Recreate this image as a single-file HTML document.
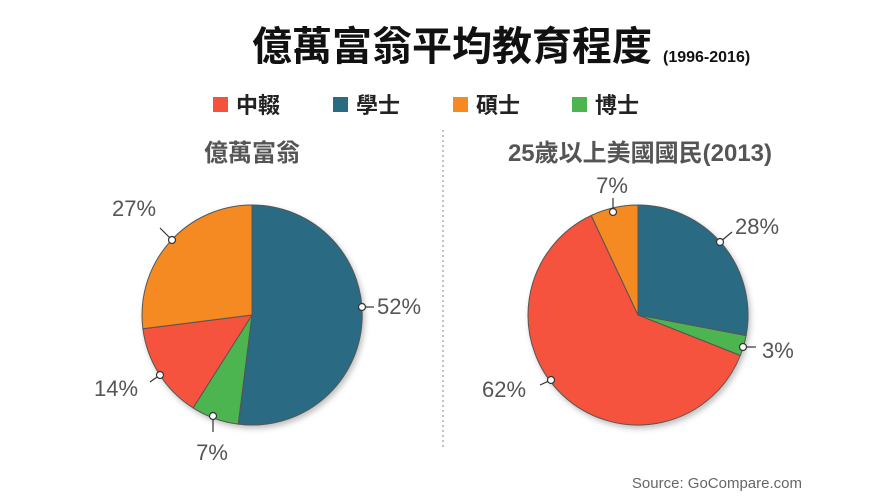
<!DOCTYPE html>
<html><head><meta charset="utf-8"><style>
body{margin:0;background:#fff;}
svg{display:block;}
text{font-family:"Liberation Sans","Noto Sans CJK TC",sans-serif;}
</style></head><body>
<svg width="890" height="501" viewBox="0 0 890 501">
<defs><filter id="sh" x="-20%" y="-20%" width="140%" height="140%"><feDropShadow dx="2" dy="3" stdDeviation="3" flood-color="#000" flood-opacity="0.25"/></filter></defs>
<text x="452" y="60" text-anchor="middle" font-size="40" font-weight="bold" fill="#111">億萬富翁平均教育程度</text>
<text x="663" y="62" font-size="16" font-weight="bold" fill="#111">(1996-2016)</text>
<rect x="213" y="97" width="15" height="15" fill="#f5523e"/><text x="236" y="113" font-size="22" font-weight="bold" fill="#222">中輟</text>
<rect x="333" y="97" width="15" height="15" fill="#2a6b83"/><text x="356" y="113" font-size="22" font-weight="bold" fill="#222">學士</text>
<rect x="453" y="97" width="15" height="15" fill="#f58a22"/><text x="476" y="113" font-size="22" font-weight="bold" fill="#222">碩士</text>
<rect x="572" y="97" width="15" height="15" fill="#4db54f"/><text x="595" y="113" font-size="22" font-weight="bold" fill="#222">博士</text>
<text x="252" y="161" text-anchor="middle" font-size="24" font-weight="bold" fill="#555">億萬富翁</text>
<text x="640" y="161" text-anchor="middle" font-size="24" font-weight="bold" fill="#555">25歲以上美國國民(2013)</text>
<line x1="443" y1="130" x2="443" y2="448" stroke="#999" stroke-width="1.2" stroke-dasharray="2,3"/>
<g filter="url(#sh)" stroke="#555" stroke-width="1">
<path d="M252,315 L252,205 A110,110 0 1 1 238.2,424.1 Z" fill="#2a6b83"/>
<path d="M252,315 L238.2,424.1 A110,110 0 0 1 193.1,407.9 Z" fill="#4db54f"/>
<path d="M252,315 L193.1,407.9 A110,110 0 0 1 142.9,328.8 Z" fill="#f5523e"/>
<path d="M252,315 L142.9,328.8 A110,110 0 0 1 252,205 Z" fill="#f58a22"/>
<path d="M638,315 L638,205 A110,110 0 0 1 746.1,335.6 Z" fill="#2a6b83"/>
<path d="M638,315 L746.1,335.6 A110,110 0 0 1 740.3,355.5 Z" fill="#4db54f"/>
<path d="M638,315 L740.3,355.5 A110,110 0 1 1 591.2,215.5 Z" fill="#f5523e"/>
<path d="M638,315 L591.2,215.5 A110,110 0 0 1 638,205 Z" fill="#f58a22"/>
</g>
<g stroke="#333" stroke-width="1.2" fill="#fff">
<line x1="362" y1="307" x2="374" y2="307"/><circle cx="362" cy="307" r="3.5"/>
<line x1="213" y1="416" x2="213" y2="432"/><circle cx="213" cy="416" r="3.5"/>
<line x1="160" y1="375" x2="150" y2="382"/><circle cx="160" cy="375" r="3.5"/>
<line x1="172" y1="240" x2="160" y2="228"/><circle cx="172" cy="240" r="3.5"/>
<line x1="720" y1="242" x2="732" y2="232"/><circle cx="720" cy="242" r="3.5"/>
<line x1="743" y1="347" x2="756" y2="347"/><circle cx="743" cy="347" r="3.5"/>
<line x1="551" y1="380" x2="540" y2="385"/><circle cx="551" cy="380" r="3.5"/>
<line x1="613" y1="212" x2="613" y2="198"/><circle cx="613" cy="212" r="3.5"/>
</g>
<g font-size="22" fill="#555">
<text x="377" y="314">52%</text>
<text x="212" y="460" text-anchor="middle">7%</text>
<text x="94" y="396">14%</text>
<text x="112" y="216">27%</text>
<text x="735" y="234">28%</text>
<text x="762" y="358">3%</text>
<text x="482" y="397">62%</text>
<text x="612" y="193" text-anchor="middle">7%</text>
</g>
<text x="802" y="488" text-anchor="end" font-size="15" fill="#666">Source: GoCompare.com</text>
</svg>
</body></html>
